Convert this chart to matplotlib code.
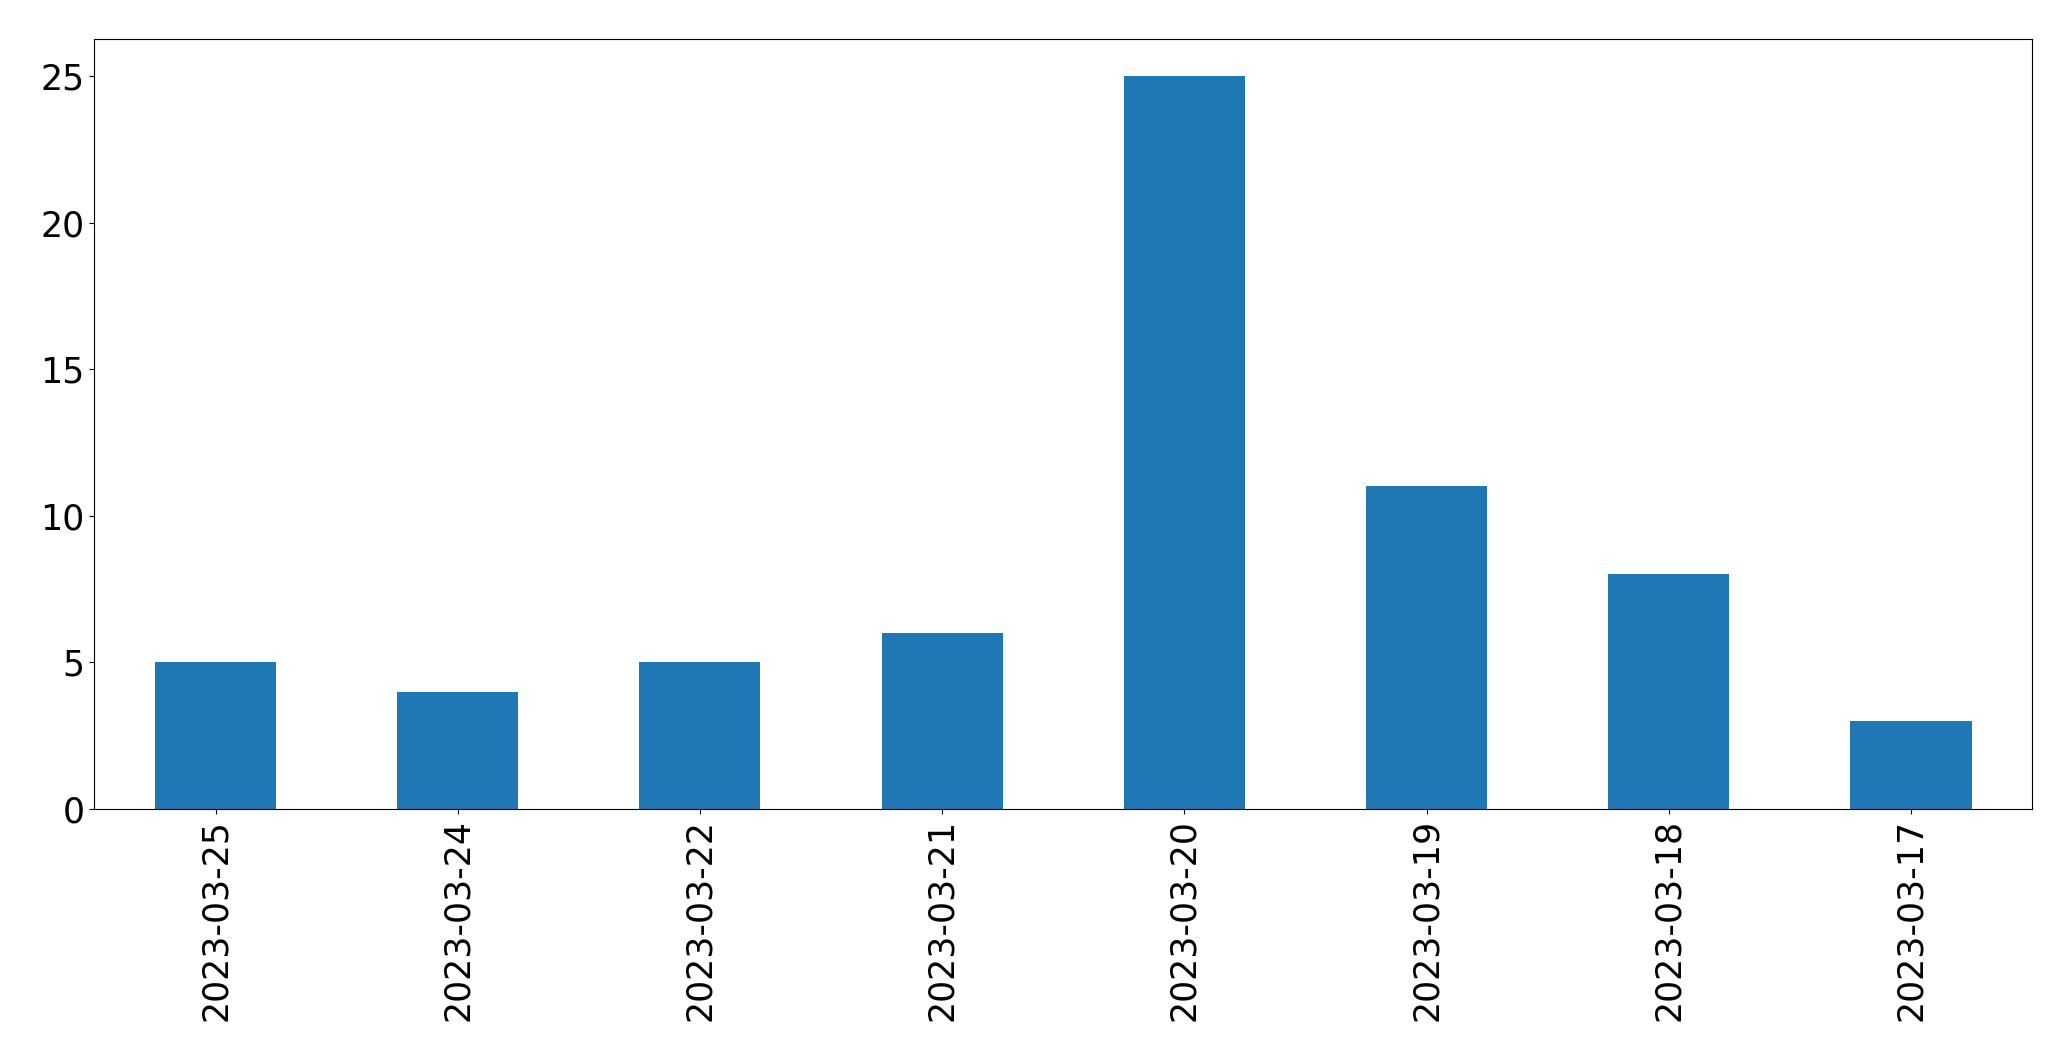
import pandas as pd
import matplotlib
matplotlib.use('Agg')
import matplotlib.pyplot as plt

dates = ['2023-03-25', '2023-03-24', '2023-03-22', '2023-03-21',
         '2023-03-20', '2023-03-19', '2023-03-18', '2023-03-17']
counts = [5, 4, 5, 6, 25, 11, 8, 3]

s = pd.Series(counts, index=dates)

fig = plt.figure(figsize=(20.71, 10.61), dpi=100)
ax = fig.add_axes([0.0456, 0.2375, 0.9356, 0.7255])
s.plot(kind='bar', ax=ax, fontsize=25, rot=90)
fig.savefig('out.png', dpi=100)
